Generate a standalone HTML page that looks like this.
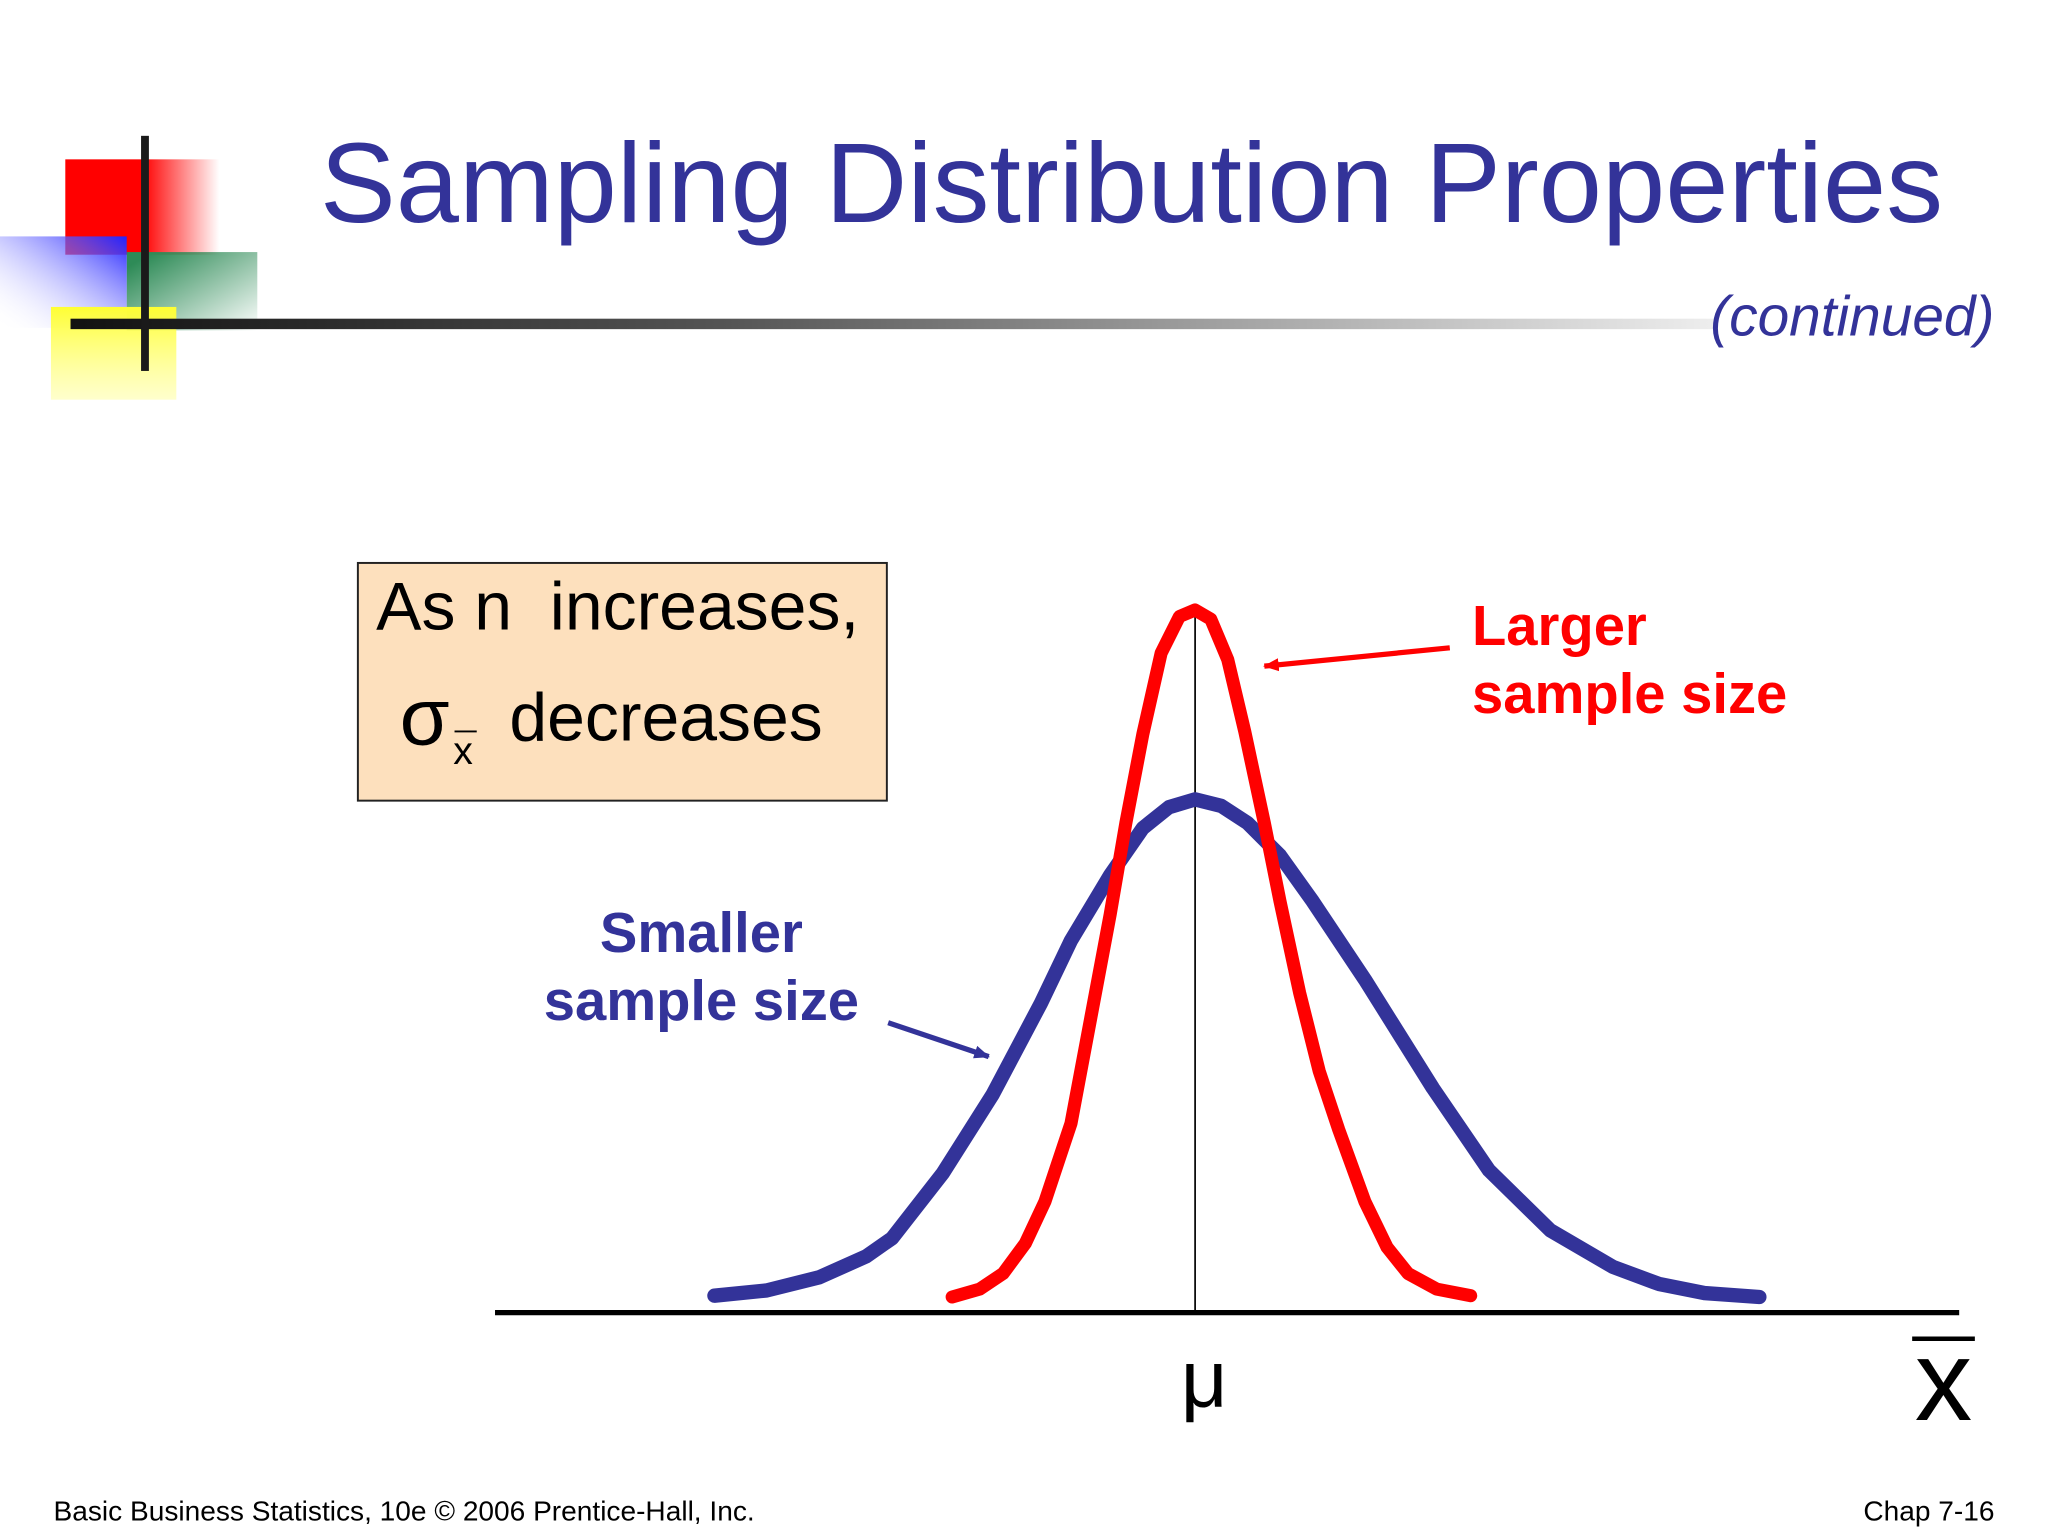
<!DOCTYPE html>
<html><head><meta charset="utf-8">
<style>
html,body{margin:0;padding:0;background:#fff;}
svg{display:block;font-family:"Liberation Sans",Arial,sans-serif;}
</style></head>
<body>
<svg width="2048" height="1536" viewBox="0 0 1568 1176">
<defs>
<linearGradient id="gRed" x1="0" x2="1"><stop offset="0.5" stop-color="#f00"/><stop offset="1" stop-color="#f00" stop-opacity="0"/></linearGradient>
<linearGradient id="gBlue" x1="1" y1="0" x2="0" y2="1"><stop offset="0" stop-color="#2222ff"/><stop offset="1" stop-color="#fff" stop-opacity="0"/></linearGradient>
<linearGradient id="gGreen" x1="0" y1="0" x2="1" y2="1"><stop offset="0.1" stop-color="#2e8b57"/><stop offset="1" stop-color="#2e8b57" stop-opacity="0"/></linearGradient>
<linearGradient id="gYel" x1="0" y1="0" x2="0" y2="1"><stop offset="0" stop-color="#ffff33"/><stop offset="1" stop-color="#ffffaa" stop-opacity="0.6"/></linearGradient>
<linearGradient id="gLine" x1="0" x2="1"><stop offset="0" stop-color="#111"/><stop offset="0.4" stop-color="#555"/><stop offset="1" stop-color="#eee"/></linearGradient>
<marker id="arrR" markerWidth="12" markerHeight="10" refX="11" refY="5" orient="auto" markerUnits="userSpaceOnUse"><path d="M0,0 L12,5 L0,10 z" fill="#f00"/></marker>
<marker id="arrB" markerWidth="12" markerHeight="10" refX="11" refY="5" orient="auto" markerUnits="userSpaceOnUse"><path d="M0,0 L12,5 L0,10 z" fill="#333399"/></marker>
</defs>

<g>
<rect x="50" y="122" width="118" height="73" fill="url(#gRed)"/>
<rect x="97" y="193" width="100" height="60" fill="url(#gGreen)"/>
<rect x="0" y="181" width="97" height="70" fill="url(#gBlue)"/>
<rect x="39" y="235" width="96" height="71" fill="url(#gYel)"/>
<rect x="54" y="244" width="1260" height="8" fill="url(#gLine)"/>
<rect x="108" y="104" width="6" height="180" fill="#1a1a1a"/>
</g>

<text x="245" y="170" font-size="87" fill="#333399">Sampling Distribution Properties</text>
<text x="1527" y="257" font-size="43.5" font-style="italic" fill="#333399" text-anchor="end">(continued)</text>

<g>
<rect x="274" y="431" width="405" height="182" fill="#fde0bd" stroke="#222" stroke-width="1.5"/>
<text x="288" y="482" font-size="52" fill="#000" xml:space="preserve">As n  increases,</text>
<text x="306" y="570" font-size="62" fill="#000">σ</text>
<text x="347" y="585" font-size="30" fill="#000">x</text>
<line x1="348" y1="560" x2="365" y2="560" stroke="#000" stroke-width="1.5"/>
<text x="390" y="567" font-size="52" fill="#000">decreases</text>
</g>

<g id="chart"></g>

<text x="1127" y="494" font-size="43" font-weight="bold" fill="#f00">Larger</text>
<text x="1127" y="546" font-size="43" font-weight="bold" fill="#f00">sample size</text>
<line x1="1110" y1="496" x2="968" y2="510" stroke="#f00" stroke-width="4" marker-end="url(#arrR)"/>
<text x="537" y="729" font-size="43" font-weight="bold" fill="#333399" text-anchor="middle">Smaller</text>
<text x="537" y="781" font-size="43" font-weight="bold" fill="#333399" text-anchor="middle">sample size</text>
<line x1="680" y1="783" x2="757" y2="809" stroke="#333399" stroke-width="4" marker-end="url(#arrB)"/>

<text x="922" y="1077" font-size="62" fill="#000" text-anchor="middle">μ</text>
<text x="1488" y="1087" font-size="88" fill="#000" text-anchor="middle">x</text>
<line x1="1464" y1="1025" x2="1512" y2="1025" stroke="#000" stroke-width="3.5"/>

<text x="41" y="1164" font-size="21.5" fill="#000">Basic Business Statistics, 10e © 2006 Prentice-Hall, Inc.</text>
<text x="1527" y="1164" font-size="21.5" fill="#000" text-anchor="end">Chap 7-16</text>
</svg>
<script>
// x offsets from mean (px units) and curve heights above axis (px units)
const blueX = [-368,-328,-288,-252,-232,-193,-155,-118,-95,-65,-40,-20,0,20,40,65,90,130,182,225,272,320,355,390,432];
const blueH = [13,17,27,43,57,107,167,237,285,335,371,387,393,388,375,350,315,255,172,109,63,35,22,15,12];
const redX = [-186,-165,-147,-130,-115,-95,-80,-65,-53,-40,-26,-12,0,12,25,38,53,65,80,95,110,130,147,163,185,211];
const redH = [12,18,30,53,85,145,225,305,375,443,505,533,538,531,500,445,375,315,245,185,140,85,50,30,18,13];
const axisMin = -536, axisMax = 585;
const NS='http://www.w3.org/2000/svg';
const mu=915, baseY=1005;
const sx = v => mu + v;
const sy = v => baseY - v;
const g=document.getElementById('chart');
function mk(tag,attrs){const e=document.createElementNS(NS,tag);for(const k in attrs)e.setAttribute(k,attrs[k]);g.appendChild(e);return e;}
const axis=mk('line',{x1:sx(axisMin),y1:baseY,x2:sx(axisMax),y2:baseY,stroke:'#000','stroke-width':4});


const mline=mk('line',{x1:sx(0),y1:sy(Math.max(...redH)),x2:sx(0),y2:baseY,stroke:'#000','stroke-width':1.3});


const bp=mk('polyline',{points:blueX.map((x,i)=>sx(x)+','+sy(blueH[i])).join(' '),fill:'none',stroke:'#333399','stroke-width':11,'stroke-linejoin':'round','stroke-linecap':'round'});


const rp=mk('polyline',{points:redX.map((x,i)=>sx(x)+','+sy(redH[i])).join(' '),fill:'none',stroke:'#f00','stroke-width':10,'stroke-linejoin':'round','stroke-linecap':'round'});


</script>
</body></html>
